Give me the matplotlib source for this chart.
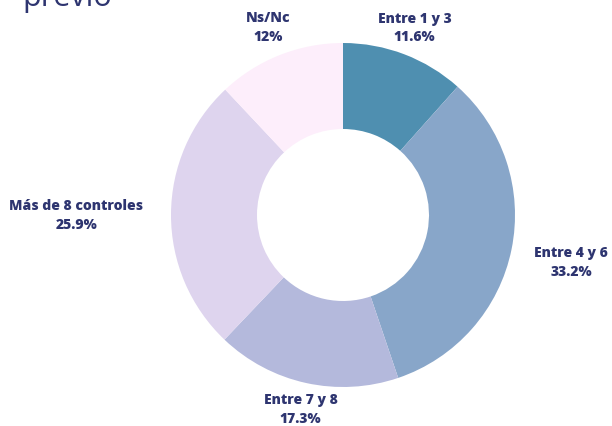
import numpy as np
import matplotlib.pyplot as plt

labels = ['Entre 1 y 3', 'Entre 4 y 6', 'Entre 7 y 8', 'Más de 8 controles', 'Ns/Nc']
values = [11.6, 33.2, 17.3, 25.9, 12.0]
pct_text = ['11.6%', '33.2%', '17.3%', '25.9%', '12%']
colors = ['#4f8fb0', '#88a6c9', '#b4b9dc', '#ded4ee', '#fdeefb']
label_dist = [1.17, 1.355, 1.15, 1.55, 1.18]

navy = '#2e3570'
plt.rcParams['font.family'] = ['Open Sans', 'DejaVu Sans']

fig = plt.figure(figsize=(6.12, 4.27), dpi=100)
ax = fig.add_axes([171 / 612, 39 / 427, 344 / 612, 344 / 427])

wedges, _ = ax.pie(values, colors=colors, startangle=90, counterclock=False,
                   radius=1.0, wedgeprops=dict(width=0.5, edgecolor='none'))

for w, lab, pct, d in zip(wedges, labels, pct_text, label_dist):
    ang = np.deg2rad((w.theta1 + w.theta2) / 2)
    ax.text(d * np.cos(ang), d * np.sin(ang), lab + '\n' + pct, ha='center', va='center',
            fontsize=10, fontweight='heavy', color=navy, linespacing=1.45)

ax.set_xlim(-1, 1)
ax.set_ylim(-1, 1)
ax.axis('off')

fig.text(22 / 612, 1 - 6 / 427, 'previo', fontsize=22, fontweight='normal', color=navy,
         ha='left', va='baseline')

fig.savefig('out.png', dpi=100)
